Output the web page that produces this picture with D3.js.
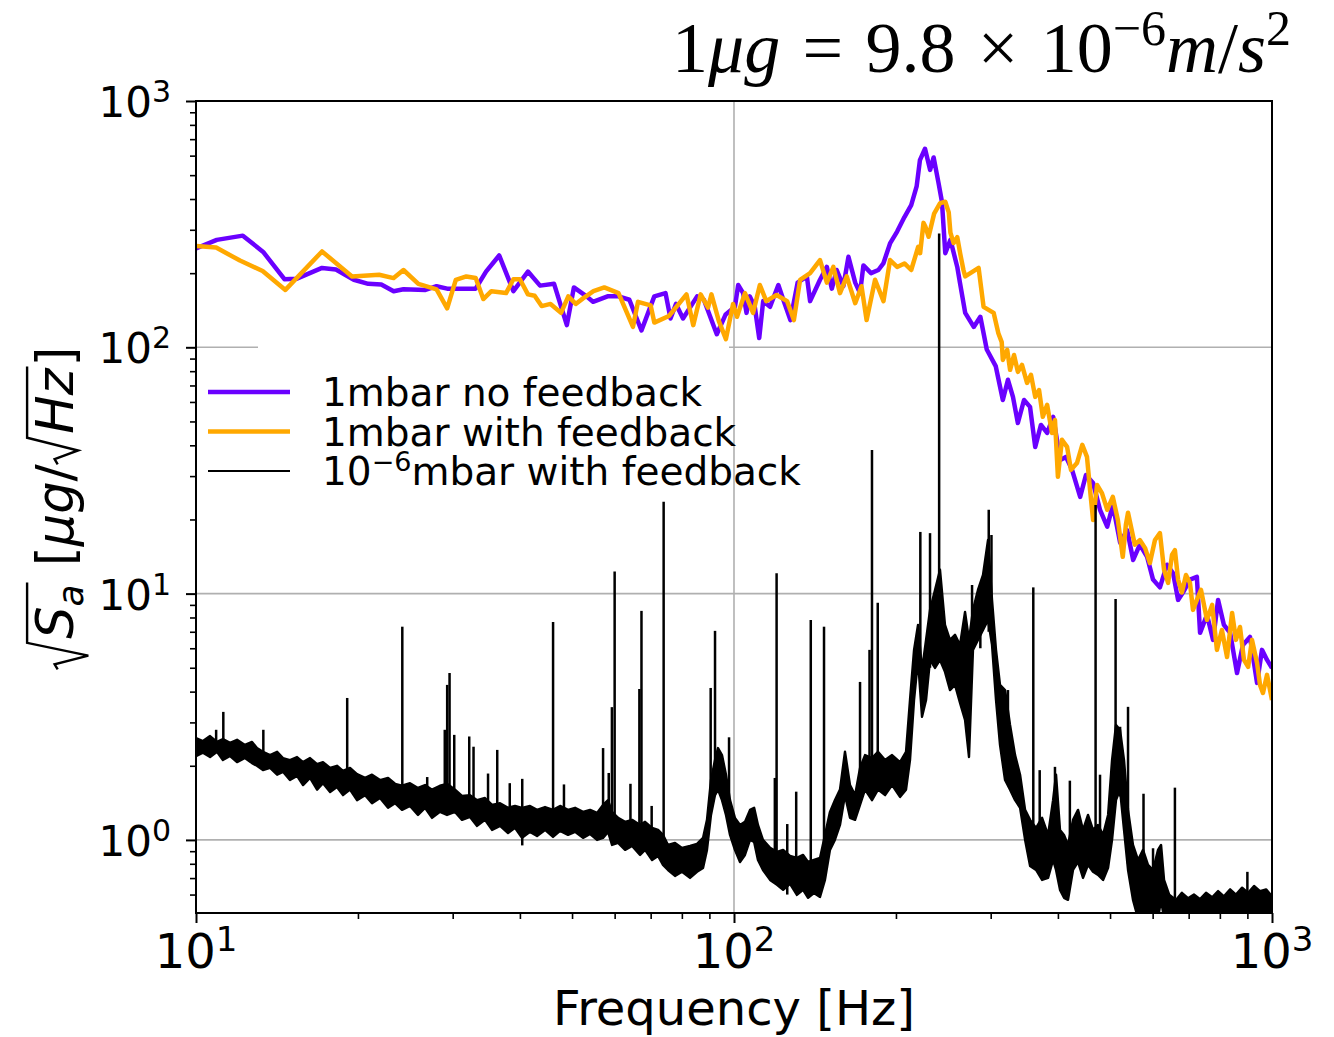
<!DOCTYPE html>
<html>
<head>
<meta charset="utf-8">
<script src="https://cdn.jsdelivr.net/npm/d3@7/dist/d3.min.js"></script>
<style>
html,body{margin:0;padding:0;background:#fff;}
svg{display:block;}
</style>
</head>
<body>
<svg id="chart" width="1334" height="1037"></svg>
<script>
// ---------------- DATA ----------------
const xMajorTicks = [10, 100, 1000];
const xTickExponents = ["1", "2", "3"];
const yMajorTicks = [1, 10, 100, 1000];
const yTickExponents = ["0", "1", "2", "3"];
const xAxisLabel = "Frequency [Hz]";
const legendLabels = ["1mbar no feedback", "1mbar with feedback", "10|\u22126|mbar with feedback"];
const seriesColors = ["#6a00ff", "#ffa800", "#000000"];

// 1 mbar, no feedback: [frequency Hz, sqrt(Sa) ug/sqrtHz]
const noFeedback1mbar = [
[10.0,252],[10.93,273],[12.22,284],[13.33,244],[14.6,189],[15.4,190],[17.15,210],[18.2,207],[19.65,188],[20.9,181],
[22.1,180],[23.3,169],[24.3,172],[26.7,171],[28.0,177],[29.3,173],[33.1,173],[34.6,203],[36.6,236],[38.9,169],
[41.4,203],[43.6,178],[46.3,181],[48.9,123],[50.4,175],[53.2,161],[54.7,153],[58.2,161],[61.0,161],[63.9,156],
[67.3,117],[71.1,161],[74.6,166],[76.2,131],[78.0,150],[80.4,131],[85.4,161],[87.9,156],[92.9,113],[96.5,136],
[100.4,146],[101.8,179],[104,166],[105.5,138],[107,161],[109.3,146],[111.4,109],[113.3,154],[116.7,146],[120.9,179],
[123.5,156],[127.3,129],[131.3,183],[136.6,194],[138.5,154],[144.5,188],[148.8,212],[152,173],[155.2,206],[159.7,177],
[163.2,233],[168,183],[171.5,166],[174,215],[179.8,200],[185.5,206],[189.5,219],[195,264],[201,295],[207.4,338],
[213.5,378],[218.5,450],[221.6,575],[226.5,640],[231.5,525],[235,590],[240,464],[243.5,390],[247,241],[252.5,273],
[260,212],[263,183],[269,138],[279,121],[287,133],[295,98],[306.5,83.9],
[316,61.1],[323,73.8],[330,62.9],[337,49.3],[346,61.1],[355,57.3],[363,39.4],[372,48.4],[382,44.9],[392,52.2],
[404,34.9],[414,35.9],[425,31.8],[440,24.7],[451,30.3],[465,28.1],[479,21.9],[494,18.7],[506,22.9],[522,16.1],
[538,18.1],[552,13.7],[568,15.8],[586,14.1],[601,11.4],[619,10.6],[638,13.1],[655,12.1],[669,9.43],[683,10.1],
[704,11.4],[725,11.7],[735,6.93],[757,8.2],[777,6.49],[794,9.43],[814,7.46],[836,6.93],[861,4.76],[883,6.19],
[910,6.67],[938,4.34],[958,5.91],[979,5.38],[1000,4.99]
];

// 1 mbar, with feedback
const withFeedback1mbar = [
[10.0,258],[10.9,254],[12.07,225],[13.3,204],[14.66,171],[17.15,245],[19.5,194],[21.9,197],[23.3,191],[24.3,206],
[25.9,181],[28.0,172],[29.3,144],[30.4,188],[31.8,194],[33.1,191],[34.2,157],[35.4,169],[37.7,166],[38.9,189],
[40.0,189],[41.4,164],[42.6,162],[43.9,147],[45.6,150],[47.7,138],[49.2,161],[50.8,150],[52.4,158],[54.8,169],
[57.4,175],[61.0,166],[64.9,121],[66.3,153],[70.0,148],[71.1,126],[75.7,134],[81.6,164],[84.0,123],[86.7,164],
[89.5,145],[90.8,164],[93.7,128],[96.6,108],[99.6,150],[101.3,133],[104.8,166],[108.5,138],[111.7,179],[114.8,154],
[120,163],[125.5,154],[129.2,129],[132.7,188],[138.5,200],[144.5,226],[148.8,183],[153,212],[157.4,166],[162,194],
[168,151],[172.6,177],[176.4,129],[182.9,188],[189.6,154],[195,226],[201,212],[207.4,219],[213.5,206],[220,256],
[221.8,241],[225,320],[226.7,310],[230,281],[235.5,349],[241.6,385],[247,390],[250.7,353],[252.5,292],[256,265],
[260,280],[263.2,241],[267,206],[269,194],[275,200],[284.9,210],[291,146],[303.8,138],[310,114],[314.5,105],
[316,88.9],[322,97.6],[326,81.0],[331.5,93.1],[337,79.5],[343,84.8],[350.5,71.7],[356.5,77.3],[363,62.9],[369,67.1],
[375,52.2],[382,58.4],[390,44.9],[395,50.7],[400,29.8],[407,42.1],[416,39.4],[423,31.8],[434,33.9],[444,40.2],
[453,35.9],[459,26.4],[465,19.9],[473,27.6],[483,25.6],[494,21.9],[506,24.7],[517,19.9],[528,14.1],[535,19.0],
[540,21.3],[556,15.8],[568,16.5],[581,15.3],[593,13.3],[606,16.5],[619,17.6],[630,12.5],[641,11.05],[652,14.4],
[660,15.0],[669,11.4],[680,10.1],[692,11.9],[704,11.05],[713,8.59],[725,9.43],[738,10.35],[757,7.82],[774,9.0],
[790,5.91],[807,7.12],[825,5.53],[843,8.35],[857,6.49],[872,7.32],[887,5.38],[903,5.04],[918,6.49],[938,5.23],
[950,4.26],[962,3.95],[979,4.68],[1000,3.70]
];

// 1e-6 mbar, with feedback: noise band [frequency, lower edge, upper edge]
const vacuumBand = [
[10.0,2.19,2.59],[10.30,2.26,2.52],[10.62,2.17,2.64],[10.94,2.28,2.50],[11.22,2.11,2.57],[11.57,2.19,2.48],[11.92,2.07,2.55],[12.33,2.15,2.43],
[12.71,2.05,2.50],[12.98,2.00,2.36],[13.32,1.92,2.28],[13.73,1.96,2.21],[14.15,1.84,2.28],[14.51,1.89,2.15],[14.95,1.75,2.11],[15.41,1.82,2.17],
[15.81,1.67,2.07],[16.29,1.785,2.15],[16.79,1.60,2.03],[17.22,1.70,2.07],[17.75,1.566,1.96],[18.28,1.64,2.00],[18.76,1.52,1.906],[19.33,1.60,1.96],
[19.92,1.45,1.85],[20.62,1.52,1.785],[21.24,1.41,1.84],[21.98,1.48,1.75],[22.75,1.35,1.785],[23.44,1.41,1.69],[24.15,1.324,1.66],[24.99,1.374,1.70],
[25.86,1.263,1.626],[26.65,1.35,1.67],[27.46,1.229,1.60],[28.41,1.30,1.66],[29.28,1.263,1.69],[30.30,1.30,1.60],[31.22,1.206,1.51],[32.31,1.24,1.52],
[33.30,1.14,1.45],[34.45,1.206,1.48],[35.50,1.098,1.387],[36.74,1.14,1.41],[38.02,1.067,1.35],[39.17,1.119,1.374],[40.36,1.019,1.35],[41.77,1.078,1.374],
[43.04,1.038,1.324],[44.54,1.098,1.36],[46.09,1.028,1.324],[47.50,1.088,1.374],[49.15,1.048,1.324],[50.65,1.078,1.35],[52.41,1.019,1.30],[54.01,1.057,1.324],
[55.65,1.0,1.287],[57.09,1.019,1.387],[58.33,1.078,1.45],[59.33,0.954,1.30],[60.89,0.972,1.229],[62.74,0.911,1.184],[64.65,0.945,1.206],[66.90,0.869,1.15],
[68.34,0.911,1.184],[70.42,0.829,1.119],[72.25,0.861,1.098],[73.79,0.792,1.048],[75.39,0.755,0.954],[77.69,0.714,0.972],[80.05,0.742,0.928],[82.84,0.701,0.945],
[85.36,0.742,0.963],[87.58,0.77,1.019],[89.08,0.911,1.206],[90.62,1.263,1.75],[92.19,1.52,2.11],[93.38,1.60,2.36],[94.99,1.45,2.21],[96.63,1.263,1.84],
[98.31,1.048,1.45],[100.4,0.911,1.229],[102.6,0.814,1.15],[104.8,0.869,1.184],[107.1,1.0,1.324],[109.0,0.981,1.35],[110.8,0.829,1.15],[113.2,0.755,1.0],
[116.7,0.688,0.928],[120.2,0.657,0.894],[123.4,0.627,0.911],[127.1,0.663,0.861],[130.9,0.598,0.845],[134.4,0.627,0.869],[137.3,0.582,0.814],[140.8,0.609,0.829],
[144.5,0.587,0.845],[147.6,0.688,1.048],[150.8,0.911,1.30],[154.0,1.0,1.45],[157.4,1.15,1.60],[160.8,1.52,2.28],[164.3,1.229,1.67],[167.9,1.206,1.52],
[171.5,1.387,1.96],[175.2,1.60,2.21],[180.5,1.45,2.15],[185.2,1.60,2.28],[190.9,1.52,2.11],[196.7,1.67,2.21],[203.5,1.495,2.07],[208.8,1.60,2.28],
[212.4,2.11,3.70],[216.1,3.70,5.91],[219.8,5.38,7.46],[223.6,3.16,4.90],[227.5,3.70,6.49],[231.4,5.38,8.59],[236.4,4.99,10.35],[241.5,5.38,12.5],
[246.7,4.81,7.46],[252.0,4.06,6.49],[257.5,4.26,6.80],[263.1,3.60,6.19],[268.8,3.07,8.43],[273.4,2.17,6.49],[278.1,5.91,8.59],[284.1,6.49,10.35],
[290.3,7.12,11.9],[296.6,7.82,16.5],[301.7,6.19,9.43],[306.9,3.70,5.91],[312.2,2.43,4.26],[319.0,1.75,4.06],[325.9,1.60,2.93],[333.0,1.45,2.21],
[340.2,1.35,1.84],[347.6,1.0,1.324],[355.1,0.784,1.206],[364.3,0.755,1.119],[373.8,0.688,1.229],[383.5,0.701,1.048],[391.8,0.829,1.45],[396.8,0.755,1.84],
[403.6,0.627,1.098],[410.6,0.582,1.048],[417.7,0.571,0.954],[426.7,0.755,1.206],[436.0,0.814,1.324],[445.4,0.701,1.098],[455.0,0.792,1.263],[464.9,0.742,1.098],
[475.0,0.721,1.15],[485.3,0.688,1.048],[495.8,0.77,1.263],[504.3,1.0,2.11],[512.9,1.45,2.93],[521.8,1.60,2.80],[530.8,1.098,2.11],[540.0,0.755,1.324],
[551.6,0.571,0.954],[563.6,0.48,0.829],[575.8,0.48,0.911],[588.2,0.48,0.792],[601.0,0.48,0.755],[614.0,0.48,0.911],[622.0,0.571,0.954],[630.0,0.48,0.688],
[644,0.48,0.60],[663,0.48,0.57],[680,0.48,0.61],[698,0.48,0.58],[716,0.48,0.60],[735,0.48,0.575],[754,0.48,0.61],[774,0.48,0.585],
[794,0.48,0.62],[814,0.48,0.59],[836,0.48,0.63],[857,0.48,0.60],[880,0.48,0.64],[903,0.48,0.61],[926,0.48,0.65],[950,0.48,0.62],
[975,0.48,0.63],[1000,0.48,0.59]
];

// 1e-6 mbar narrow lines: [frequency, foot, peak]
const vacuumSpikes = [
[10.9,2.36,2.80],[11.24,2.3,3.31],[13.34,2.1,2.80],[19.1,1.7,3.77],[24.18,1.55,7.34],[26.9,1.4,1.80],[29.0,1.45,2.80],[29.3,1.45,4.26],
[29.6,1.45,4.76],[30.2,1.45,2.67],[32.2,1.35,2.63],[32.8,1.35,2.39],[34.9,1.3,1.86],[36.3,1.3,2.32],[38.3,1.2,1.70],[40.4,0.95,1.77],
[46.1,1.2,7.67],[48.3,1.2,1.68],[57.1,1.2,2.36],[58.5,1.2,1.87],[59.3,1.2,3.46],[60.0,1.1,12.3],[64.2,1.05,1.69],[66.7,1.0,4.10],
[67.3,1.0,8.51],[70.3,0.95,1.374],[74.0,0.9,23.6],[90.5,1.5,4.14],[92.2,2.0,7.06],[97.9,1.2,2.61],[119.1,0.8,1.785],[120.0,0.8,12.1],
[125.6,0.6,1.16],[130.5,0.7,1.57],[138.9,0.6,7.82],[147.0,0.75,7.34],[171.5,1.6,4.38],[178.6,1.8,5.91],[180.5,1.8,38.3],[185,1.8,9.18],
[222,5,17.8],[231.4,5,17.6],[240.6,6,290],[277,6,10.84],[287,6,10.84],[297.5,7,21.9],[301,7,17.3],[312.5,2.5,4.06],
[323,2,4.06],[360,1.0,10.6],[370,0.9,1.92],[395,0.85,1.98],[421,0.9,1.74],[470,0.9,22.9],[479,0.9,1.84],[512,1.5,9.51],
[522,1.5,2.88],[540,0.8,3.47],[577,0.6,1.54],[601,0.55,0.925],[660,0.58,1.63],[900,0.6,0.742]
];

// ---------------- CHART ----------------
const plot = {left:196, right:1272, top:101, bottom:913};
const svg = d3.select('#chart');
const x = d3.scaleLog().domain([10,1000]).range([plot.left, plot.right]);
const y = d3.scaleLog().domain([0.505,1000]).range([plot.bottom, plot.top]);
const SANS = '"DejaVu Sans", sans-serif';
const SERIF = '"Liberation Serif", "Times New Roman", serif';

// grid
const grid = svg.append('g').attr('stroke','#b0b0b0').attr('stroke-width',1.6);
grid.selectAll('line.gx').data(xMajorTicks).join('line').attr('class','gx')
  .attr('x1',d=>x(d)).attr('x2',d=>x(d)).attr('y1',plot.top).attr('y2',plot.bottom);
grid.selectAll('line.gy').data(yMajorTicks).join('line').attr('class','gy')
  .attr('x1',plot.left).attr('x2',plot.right).attr('y1',d=>y(d)).attr('y2',d=>y(d));

// legend background (covers grid)
svg.append('rect').attr('x',258).attr('y',345).attr('width',471).attr('height',152).attr('fill','#fff');

// clip
svg.append('clipPath').attr('id','clip').append('rect')
  .attr('x',plot.left).attr('y',plot.top).attr('width',plot.right-plot.left).attr('height',plot.bottom-plot.top);
const dataG = svg.append('g').attr('clip-path','url(#clip)');

const line = d3.line().x(d=>x(d[0])).y(d=>y(d[1]));
dataG.append('path').datum(noFeedback1mbar).attr('d',line)
  .attr('fill','none').attr('stroke',seriesColors[0]).attr('stroke-width',4.5).attr('stroke-linejoin','round');
dataG.append('path').datum(withFeedback1mbar).attr('d',line)
  .attr('fill','none').attr('stroke',seriesColors[1]).attr('stroke-width',4.5).attr('stroke-linejoin','round');

const band = d3.area().x(d=>x(d[0])).y0(d=>y(d[1])).y1(d=>y(d[2]));
dataG.append('path').datum(vacuumBand).attr('d',band)
  .attr('fill',seriesColors[2]).attr('stroke',seriesColors[2]).attr('stroke-width',2.4).attr('stroke-linejoin','round');
dataG.selectAll('line.spike').data(vacuumSpikes).join('line').attr('class','spike')
  .attr('x1',d=>x(d[0])).attr('x2',d=>x(d[0])).attr('y1',d=>y(d[1])).attr('y2',d=>y(d[2]))
  .attr('stroke',seriesColors[2]).attr('stroke-width',2.5);

// axes ticks
const isMajor = t => Math.abs(Math.log10(t) - Math.round(Math.log10(t))) < 1e-6;
const xMinor = x.ticks().filter(t=>!isMajor(t));
const yMinor = y.ticks().filter(t=>!isMajor(t));
function styleAxis(g, w){ g.select('.domain').remove(); g.selectAll('line').attr('stroke','#000').attr('stroke-width',w); g.selectAll('text').remove(); }
svg.append('g').attr('transform',`translate(0,${plot.bottom})`)
  .call(d3.axisBottom(x).tickValues(xMajorTicks).tickSize(10).tickSizeOuter(0)).call(g=>styleAxis(g,2));
svg.append('g').attr('transform',`translate(0,${plot.bottom})`)
  .call(d3.axisBottom(x).tickValues(xMinor).tickSize(6).tickSizeOuter(0)).call(g=>styleAxis(g,1.6));
svg.append('g').attr('transform',`translate(${plot.left},0)`)
  .call(d3.axisLeft(y).tickValues(yMajorTicks).tickSize(10).tickSizeOuter(0)).call(g=>styleAxis(g,2));
svg.append('g').attr('transform',`translate(${plot.left},0)`)
  .call(d3.axisLeft(y).tickValues(yMinor).tickSize(6).tickSizeOuter(0)).call(g=>styleAxis(g,1.6));

// spines
svg.append('rect').attr('x',plot.left).attr('y',plot.top).attr('width',plot.right-plot.left).attr('height',plot.bottom-plot.top)
  .attr('fill','none').attr('stroke','#000').attr('stroke-width',2);

// tick labels
xMajorTicks.forEach((t,i)=>{
  const tx = svg.append('text').attr('x',x(t)).attr('y',968).attr('text-anchor','middle')
    .style('font-family',SANS).attr('font-size',48).attr('fill','#000');
  tx.append('tspan').text('10');
  tx.append('tspan').attr('font-size',34).attr('dy',-17).text(xTickExponents[i]);
});
yMajorTicks.forEach((t,i)=>{
  const tx = svg.append('text').attr('x',171).attr('y',y(t)+16).attr('text-anchor','end')
    .style('font-family',SANS).attr('font-size',42).attr('fill','#000');
  tx.append('tspan').text('10');
  tx.append('tspan').attr('font-size',30).attr('dy',-15).text(yTickExponents[i]);
});

// x axis label
svg.append('text').attr('x',734).attr('y',1025).attr('text-anchor','middle')
  .style('font-family',SANS).attr('font-size',48).attr('fill','#000').text(xAxisLabel);

// y axis label (mathtext-like)
(function(){
  const F = 51;
  const g = svg.append('g');
  let cx = 0;
  function piece(str, size, italic, dy){
    const t = g.append('text').attr('x',cx).attr('y',dy||0).style('font-family',SANS)
      .attr('font-size',size).attr('font-style',italic?'italic':'normal').attr('fill','#000').text(str);
    cx += t.node().getComputedTextLength();
    return t;
  }
  function radical(contentFn, depth){
    const s = cx; cx += 0.6*F;
    contentFn();
    cx += 0.04*F;
    g.append('path').attr('d',`M${s},${-0.30*F} L${s+0.10*F},${-0.36*F} L${s+0.27*F},${depth} L${s+0.52*F},${-0.90*F} L${cx},${-0.90*F}`)
      .attr('fill','none').attr('stroke','#000').attr('stroke-width',2.4);
  }
  radical(()=>{ piece('S',F,true); piece('a',0.7*F,true,0.2*F); }, 0.30*F);
  cx += 0.32*F;
  piece('[',F,false); piece('\u03bcg',F,true); piece('/',F,false);
  radical(()=>{ piece('Hz',F,true); }, 0.10*F);
  piece(']',F,false);
  g.attr('transform',`translate(73,${508+cx/2}) rotate(-90)`);
})();

// title
(function(){
  const F = 72, S = 50, base = 72, x0 = 672, x1 = 1291;
  const g = svg.append('g');
  const items = [
    {t:'1'},{t:'\u03bcg',i:true},{gap:1},{t:'='},{gap:1},{t:'9.8'},{gap:1},{t:'\u00d7'},{gap:1},
    {t:'10'},{t:'\u22126',sup:true},{t:'m',i:true},{t:'/'},{t:'s',i:true},{t:'2',sup:true}
  ];
  const nodes = [];
  let total = 0, gaps = 0;
  items.forEach(it=>{
    if(it.gap){ gaps++; nodes.push(null); return; }
    const t = g.append('text').style('font-family',SERIF).attr('font-size',it.sup?S:F)
      .attr('font-style',it.i?'italic':'normal').attr('fill','#000').text(it.t);
    const w = t.node().getComputedTextLength();
    total += w; nodes.push({t, w, sup:it.sup});
  });
  const gapW = Math.max(6, (x1 - x0 - total)/gaps);
  let cx = x0;
  nodes.forEach(n=>{
    if(!n){ cx += gapW; return; }
    n.t.attr('x',cx).attr('y', n.sup ? base-27 : base);
    cx += n.w;
  });
})();

// legend
const legendG = svg.append('g');
legendLabels.forEach((lab,i)=>{
  const ly = 392 + i*39.5;
  legendG.append('line').attr('x1',208).attr('x2',290).attr('y1',ly).attr('y2',ly)
    .attr('stroke',seriesColors[i]).attr('stroke-width', i<2 ? 4.5 : 2.2);
  const tx = legendG.append('text').attr('x',322).attr('y',ly+14).style('font-family',SANS)
    .attr('font-size',39).attr('fill','#000');
  const parts = lab.split('|');
  if(parts.length === 3){
    tx.append('tspan').text(parts[0]);
    tx.append('tspan').attr('font-size',27).attr('dy',-14).text(parts[1]);
    tx.append('tspan').attr('dy',14).text(parts[2]);
  } else {
    tx.text(lab);
  }
});
</script>
</body>
</html>
